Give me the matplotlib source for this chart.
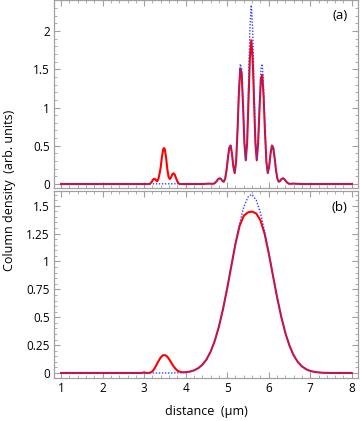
import matplotlib
matplotlib.use("Agg")
import matplotlib.pyplot as plt
from matplotlib.ticker import MultipleLocator, AutoMinorLocator

plt.rcParams['font.family'] = ['Open Sans', 'DejaVu Sans']

# ---------------- data: panel (a) ----------------
x_a_core = [4.520, 4.553, 4.586, 4.619, 4.652, 4.686, 4.719, 4.752, 4.785, 4.818,
            4.851, 4.884, 4.917, 4.951, 4.984, 5.017, 5.050, 5.083, 5.116, 5.149,
            5.182, 5.216, 5.249, 5.282, 5.315, 5.348, 5.381, 5.414, 5.447, 5.481,
            5.514, 5.547, 5.580, 5.613, 5.646, 5.679, 5.712, 5.745, 5.779, 5.812,
            5.845, 5.878, 5.911, 5.944, 5.977, 6.010, 6.044, 6.077, 6.110, 6.143,
            6.176, 6.209, 6.242, 6.275, 6.308, 6.342, 6.375, 6.408, 6.441, 6.474,
            6.507, 6.540, 6.574, 6.607, 6.640]

blue_a_core = [0.004, 0.005, 0.005, 0.003, 0.003, 0.007, 0.020, 0.042, 0.065, 0.076,
               0.066, 0.041, 0.029, 0.068, 0.178, 0.338, 0.474, 0.504, 0.396, 0.224,
               0.143, 0.302, 0.721, 1.236, 1.570, 1.509, 1.075, 0.549, 0.318, 0.607,
               1.312, 2.036, 2.340, 2.036, 1.312, 0.607, 0.318, 0.549, 1.075, 1.509,
               1.570, 1.236, 0.721, 0.302, 0.143, 0.224, 0.396, 0.504, 0.474, 0.338,
               0.178, 0.068, 0.029, 0.041, 0.066, 0.076, 0.065, 0.042, 0.020, 0.007,
               0.003, 0.003, 0.005, 0.005, 0.004]

red_a_core = [0.004, 0.005, 0.005, 0.003, 0.003, 0.007, 0.020, 0.042, 0.065, 0.076,
              0.066, 0.041, 0.029, 0.068, 0.178, 0.338, 0.474, 0.504, 0.396, 0.224,
              0.143, 0.300, 0.700, 1.190, 1.510, 1.452, 1.040, 0.540, 0.310, 0.540,
              1.100, 1.650, 1.880, 1.650, 1.100, 0.540, 0.310, 0.530, 0.990, 1.375,
              1.430, 1.130, 0.670, 0.295, 0.143, 0.224, 0.396, 0.504, 0.474, 0.338,
              0.178, 0.068, 0.029, 0.041, 0.066, 0.076, 0.065, 0.042, 0.020, 0.007,
              0.003, 0.003, 0.005, 0.005, 0.004]

x_a_left = [1.00, 3.10, 3.14, 3.18, 3.22, 3.25, 3.28, 3.31, 3.34, 3.37, 3.40, 3.43,
            3.46, 3.48, 3.50, 3.53, 3.56, 3.59, 3.62, 3.65, 3.68, 3.71, 3.74, 3.77,
            3.80, 3.83, 3.86, 4.40]
red_a_left = [0.0, 0.0, 0.003, 0.025, 0.060, 0.070, 0.055, 0.035, 0.060, 0.130,
              0.220, 0.360, 0.455, 0.470, 0.450, 0.340, 0.190, 0.090, 0.065, 0.090,
              0.130, 0.140, 0.120, 0.075, 0.035, 0.010, 0.0, 0.0]

x_a_right = [6.80, 8.00]
zero_a_right = [0.0, 0.0]

# ---------------- data: panel (b) ----------------
x_b = [1.0, 2.9, 2.95, 3.0, 3.05, 3.1, 3.15, 3.2, 3.25, 3.3, 3.35, 3.4, 3.45, 3.5,
       3.55, 3.6, 3.65, 3.7, 3.75, 3.8, 3.85, 3.9, 3.95, 4.0, 4.1, 4.2, 4.3, 4.4,
       4.5, 4.6, 4.7, 4.8, 4.9, 5.0, 5.1, 5.2, 5.3, 5.4, 5.5, 5.58, 5.6, 5.7, 5.8,
       5.9, 6.0, 6.1, 6.2, 6.3, 6.4, 6.5, 6.6, 6.7, 6.8, 6.9, 7.0, 7.1, 7.2, 7.3,
       7.5, 8.0]

blue_b = [0.0, 0.0, 0.0, 0.0, 0.0, 0.0, 0.0, 0.0, 0.0, 0.0, 0.0, 0.0, 0.0, 0.0,
          0.0, 0.0, 0.0, 0.0, 0.001, 0.001, 0.002, 0.003, 0.004, 0.006, 0.012, 0.023,
          0.042, 0.073, 0.120, 0.190, 0.287, 0.415, 0.574, 0.759, 0.960, 1.162,
          1.344, 1.489, 1.577, 1.600, 1.599, 1.550, 1.437, 1.275, 1.082, 0.878,
          0.682, 0.507, 0.360, 0.245, 0.159, 0.099, 0.059, 0.034, 0.018, 0.010,
          0.005, 0.002, 0.0, 0.0]

red_b = [0.0, 0.0, 0.0, 0.006, 0.0, 0.001, 0.003, 0.015, 0.040, 0.075, 0.110,
         0.140, 0.158, 0.160, 0.150, 0.125, 0.095, 0.065, 0.040, 0.022, 0.012,
         0.007, 0.006, 0.007, 0.012, 0.023, 0.042, 0.073, 0.120, 0.190, 0.287,
         0.415, 0.574, 0.759, 0.960, 1.160, 1.320, 1.410, 1.440, 1.447, 1.447,
         1.430, 1.370, 1.250, 1.075, 0.878, 0.682, 0.507, 0.360, 0.245, 0.159,
         0.099, 0.059, 0.034, 0.018, 0.010, 0.005, 0.002, 0.0, 0.0]

x_ticks = [1, 2, 3, 4, 5, 6, 7, 8]
y_ticks_a = [0, 0.5, 1, 1.5, 2]
y_tick_labels_a = ['0', '0.5', '1', '1.5', '2']
y_ticks_b = [0, 0.25, 0.5, 0.75, 1, 1.25, 1.5]
y_tick_labels_b = ['0', '0.25', '0.5', '0.75', '1', '1.25', '1.5']

# ---------------- figure ----------------
W, H = 360, 421
fig = plt.figure(figsize=(W / 100, H / 100), dpi=100)

L, R = 54 / W, 358 / W
ax_a = fig.add_axes([L, 1 - 188 / H, R - L, (188 - 0.5) / H])
ax_b = fig.add_axes([L, 1 - 378 / H, R - L, (378 - 191) / H])

RED = '#ff0000'
BLUE = '#3344ff'
FRAME = '#a0a0a0'

# panel (a)
ax_a.plot(x_a_left + x_a_core + x_a_right,
          red_a_left + red_a_core + zero_a_right,
          color=RED, lw=1.5, solid_joinstyle='round', zorder=2)
ax_a.plot([1.0] + x_a_core + [8.0], [0.0] + blue_a_core + [0.0],
          color=BLUE, lw=1.0, ls=(0, (1, 1.2)), zorder=3)

# panel (b)
ax_b.plot(x_b, red_b, color=RED, lw=1.5, zorder=2)
ax_b.plot(x_b, blue_b, color=BLUE, lw=1.0, ls=(0, (1, 1.2)), zorder=3)

ax_a.set_ylim(-0.052, 2.40)
ax_b.set_ylim(-0.045, 1.632)
for ax in (ax_a, ax_b):
    ax.set_xlim(0.83, 8.15)
    ax.set_xticks(x_ticks)
    ax.xaxis.set_minor_locator(AutoMinorLocator(5))
    for s in ax.spines.values():
        s.set_color(FRAME)
        s.set_linewidth(0.9)
    ax.tick_params(which='both', direction='in', top=True, right=True,
                   color=FRAME, labelsize=8.5, labelcolor='black', pad=3)
    ax.tick_params(which='major', length=4, width=0.8)
    ax.tick_params(which='minor', length=2, width=0.6)

ax_a.set_yticks(y_ticks_a)
ax_a.set_yticklabels(y_tick_labels_a)
ax_a.yaxis.set_minor_locator(AutoMinorLocator(5))
ax_a.tick_params(labelbottom=False)

ax_b.set_yticks(y_ticks_b)
ax_b.set_yticklabels(y_tick_labels_b)
ax_b.yaxis.set_minor_locator(AutoMinorLocator(5))
ax_b.set_xticklabels([str(t) for t in x_ticks])

ax_a.text(0.965, 0.955, '(a)', transform=ax_a.transAxes, ha='right', va='top',
          fontsize=9.5)
ax_b.text(0.965, 0.945, '(b)', transform=ax_b.transAxes, ha='right', va='top',
          fontsize=9.5)

fig.text(206 / W, 1 - 411 / H, 'distance  (\u03bcm)', ha='center', va='center',
         fontsize=9)
fig.text(10 / W, 1 - 190 / H, 'Column density  (arb. units)', ha='center',
         va='center', rotation=90, fontsize=9)

fig.savefig('out.png', dpi=100)
